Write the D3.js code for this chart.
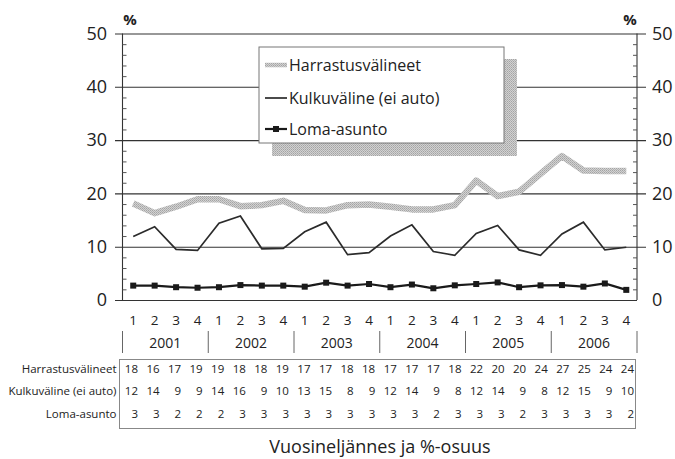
<!DOCTYPE html>
<html>
<head>
<meta charset="utf-8">
<script src="https://cdn.jsdelivr.net/npm/d3@7"></script>
<style>
  body { margin: 0; background: #fff; }
  text { font-family: "Open Sans", sans-serif; fill: #222; }
</style>
</head>
<body>
<div id="chart"></div>
<script>
// categories
var years = ["2001", "2002", "2003", "2004", "2005", "2006"];
var quarters = ["1", "2", "3", "4"];
var seriesNames = ["Harrastusvälineet", "Kulkuväline (ei auto)", "Loma-asunto"];

// plotted values
var harrastus = [18.1, 16.3, 17.5, 18.9, 18.9, 17.6, 17.8, 18.6, 16.9, 16.8, 17.8, 17.9,
                 17.5, 17.0, 17.0, 17.8, 22.4, 19.5, 20.3, 23.7, 27.0, 24.3, 24.2, 24.2];
var kulku = [11.9, 13.75, 9.5, 9.3, 14.4, 15.75, 9.6, 9.7, 12.8, 14.6, 8.5, 8.9,
             12.0, 14.1, 9.1, 8.4, 12.5, 14.0, 9.4, 8.4, 12.4, 14.6, 9.4, 9.9];
var loma = [2.7, 2.7, 2.4, 2.3, 2.4, 2.8, 2.7, 2.7, 2.5, 3.25, 2.7, 3.0,
            2.4, 2.9, 2.2, 2.75, 3.0, 3.3, 2.4, 2.75, 2.8, 2.5, 3.1, 1.9];

// values printed in the table under the chart
var tableHarrastus = [18, 16, 17, 19, 19, 18, 18, 19, 17, 17, 18, 18, 17, 17, 17, 18, 22, 20, 20, 24, 27, 25, 24, 24];
var tableKulku = [12, 14, 9, 9, 14, 16, 9, 10, 13, 15, 8, 9, 12, 14, 9, 8, 12, 14, 9, 8, 12, 15, 9, 10];
var tableLoma = [3, 3, 2, 2, 2, 3, 3, 3, 3, 3, 3, 3, 3, 3, 2, 3, 3, 3, 2, 3, 3, 3, 3, 2];

var yTicks = [0, 10, 20, 30, 40, 50];
var yMinor = [2, 4, 6, 8, 12, 14, 16, 18, 22, 24, 26, 28, 32, 34, 36, 38, 42, 44, 46, 48];
var xTitle = "Vuosineljännes ja %-osuus";

var width = 675, height = 459;
var pLeft = 122.5, pRight = 637, pTop = 33.5, pBottom = 300;

// one key per quarter
var cats = [];
years.forEach(function (yr) { quarters.forEach(function (q) { cats.push(yr + "-" + q); }); });

var svg = d3.select("#chart").append("svg")
    .attr("width", width).attr("height", height);

// halftone grey texture for the thick line and the legend shadow
var defs = svg.append("defs");
var pat = defs.append("pattern").attr("id", "dots")
    .attr("patternUnits", "userSpaceOnUse").attr("width", 2).attr("height", 2);
pat.append("rect").attr("width", 2).attr("height", 2).attr("fill", "#d2d2d2");
pat.append("rect").attr("width", 1).attr("height", 1).attr("fill", "#a4a4a4");
pat.append("rect").attr("x", 1).attr("y", 1).attr("width", 1).attr("height", 1).attr("fill", "#b2b2b2");

var x = d3.scaleBand().domain(cats).range([pLeft, pRight]).padding(0);
var y = d3.scaleLinear().domain([0, 50]).range([pBottom, pTop]);
var cx = function (i) { return x(cats[i]) + x.bandwidth() / 2; };

// gridlines + left labels
var gl = svg.append("g").attr("transform", "translate(115,0)")
    .call(d3.axisLeft(y).tickValues(yTicks).tickSize(-531).tickPadding(8));
gl.select(".domain").remove();
gl.selectAll(".tick line").attr("stroke", "#333").attr("stroke-width", 1.1);
gl.selectAll(".tick").filter(function (d) { return d === 0; }).select("line").attr("x2", pRight - 115);
gl.selectAll("text").style("font-size", "18px").attr("fill", "#222");

// right labels
var gr = svg.append("g").attr("transform", "translate(646,0)")
    .call(d3.axisRight(y).tickValues(yTicks).tickSize(0).tickPadding(6));
gr.select(".domain").remove();
gr.selectAll("text").style("font-size", "18px").attr("fill", "#222");

// vertical axes with minor ticks pointing inwards
var al = svg.append("g").attr("transform", "translate(" + pLeft + ",0)")
    .call(d3.axisRight(y).tickValues(yMinor).tickSize(4).tickFormat(""));
al.select(".domain").attr("d", "M0," + pTop + "V" + pBottom);
var ar = svg.append("g").attr("transform", "translate(" + pRight + ",0)")
    .call(d3.axisLeft(y).tickValues(yMinor).tickSize(4).tickFormat(""));
ar.select(".domain").attr("d", "M0," + pTop + "V" + pBottom);
svg.selectAll(".domain").attr("stroke", "#333").attr("stroke-width", 1.1);
al.selectAll(".tick line").attr("stroke", "#555");
ar.selectAll(".tick line").attr("stroke", "#555");

svg.append("text").attr("x", 130).attr("y", 25).attr("text-anchor", "middle")
    .style("font-size", "15px").style("font-weight", "bold").text("%");
svg.append("text").attr("x", 630).attr("y", 25).attr("text-anchor", "middle")
    .style("font-size", "15px").style("font-weight", "bold").text("%");

// lines
var line = d3.line().x(function (d, i) { return cx(i); }).y(function (d) { return y(d); });

svg.append("path").datum(harrastus).attr("d", line)
    .attr("fill", "none").attr("stroke", "url(#dots)").attr("stroke-width", 6.5)
    .attr("stroke-linejoin", "round");
svg.append("path").datum(kulku).attr("d", line)
    .attr("fill", "none").attr("stroke", "#2b2b2b").attr("stroke-width", 1.7);
svg.append("path").datum(loma).attr("d", line)
    .attr("fill", "none").attr("stroke", "#1a1a1a").attr("stroke-width", 2.2);
svg.append("g").selectAll("rect").data(loma).enter().append("rect")
    .attr("x", function (d, i) { return cx(i) - 3; })
    .attr("y", function (d) { return y(d) - 3; })
    .attr("width", 6).attr("height", 6).attr("fill", "#1a1a1a");

// legend with shadow
var lg = svg.append("g").attr("transform", "translate(259,47)");
lg.append("rect").attr("x", 13).attr("y", 12).attr("width", 245).attr("height", 97).attr("fill", "url(#dots)");
lg.append("rect").attr("width", 245).attr("height", 96).attr("fill", "#fff")
    .attr("stroke", "#777").attr("stroke-width", 1);
var rowsY = [18, 51, 82];
lg.append("line").attr("x1", 6).attr("x2", 28).attr("y1", rowsY[0]).attr("y2", rowsY[0])
    .attr("stroke", "url(#dots)").attr("stroke-width", 4.5);
lg.append("line").attr("x1", 6).attr("x2", 28).attr("y1", rowsY[1]).attr("y2", rowsY[1])
    .attr("stroke", "#2b2b2b").attr("stroke-width", 1.7);
lg.append("line").attr("x1", 6).attr("x2", 28).attr("y1", rowsY[2]).attr("y2", rowsY[2])
    .attr("stroke", "#1a1a1a").attr("stroke-width", 2.2);
lg.append("rect").attr("x", 14).attr("y", rowsY[2] - 3).attr("width", 6).attr("height", 6).attr("fill", "#1a1a1a");
lg.selectAll("text.lab").data(seriesNames).enter().append("text").attr("class", "lab")
    .attr("x", 30).attr("y", function (d, i) { return rowsY[i]; })
    .attr("dy", "0.36em").style("font-size", "16px").text(function (d) { return d; });

// quarter labels
var gq = svg.append("g").attr("transform", "translate(0," + pBottom + ")")
    .call(d3.axisBottom(x).tickSize(0).tickPadding(15).tickFormat(function (d) { return d.split("-")[1]; }));
gq.select(".domain").remove();
gq.selectAll("text").style("font-size", "13.5px").attr("fill", "#222");

// years and separators
years.forEach(function (yr, k) {
    var x0 = x(cats[k * 4]);
    var x1 = x(cats[k * 4 + 3]) + x.bandwidth();
    svg.append("text").attr("x", (x0 + x1) / 2).attr("y", 343).attr("dy", "0.36em")
        .attr("text-anchor", "middle").style("font-size", "14px").text(yr);
    svg.append("line").attr("x1", x0).attr("x2", x0).attr("y1", 331).attr("y2", 353)
        .attr("stroke", "#666").attr("stroke-width", 1);
});
svg.append("line").attr("x1", pRight).attr("x2", pRight).attr("y1", 331).attr("y2", 353)
    .attr("stroke", "#666").attr("stroke-width", 1);

// data table
var tx = d3.scalePoint().domain(cats).range([138, 634]);
svg.append("rect").attr("x", 119.5).attr("y", 359.5).attr("width", 516).attr("height", 69)
    .attr("fill", "none").attr("stroke", "#888").attr("stroke-width", 1);
var tableRows = [tableHarrastus, tableKulku, tableLoma];
var tableY = [369, 391, 414];
tableRows.forEach(function (row, r) {
    svg.append("text").attr("x", 116.5).attr("y", tableY[r]).attr("dy", "0.36em")
        .attr("text-anchor", "end").style("font-size", "11.5px").text(seriesNames[r]);
    svg.append("g").selectAll("text").data(row).enter().append("text")
        .attr("x", function (d, i) { return tx(cats[i]); })
        .attr("y", tableY[r]).attr("dy", "0.36em").attr("text-anchor", "end")
        .style("font-size", "11.5px").text(function (d) { return d; });
});

svg.append("text").attr("x", 380).attr("y", 447).attr("dy", "0.36em")
    .attr("text-anchor", "middle").style("font-size", "18px").text(xTitle);
</script>
</body>
</html>
